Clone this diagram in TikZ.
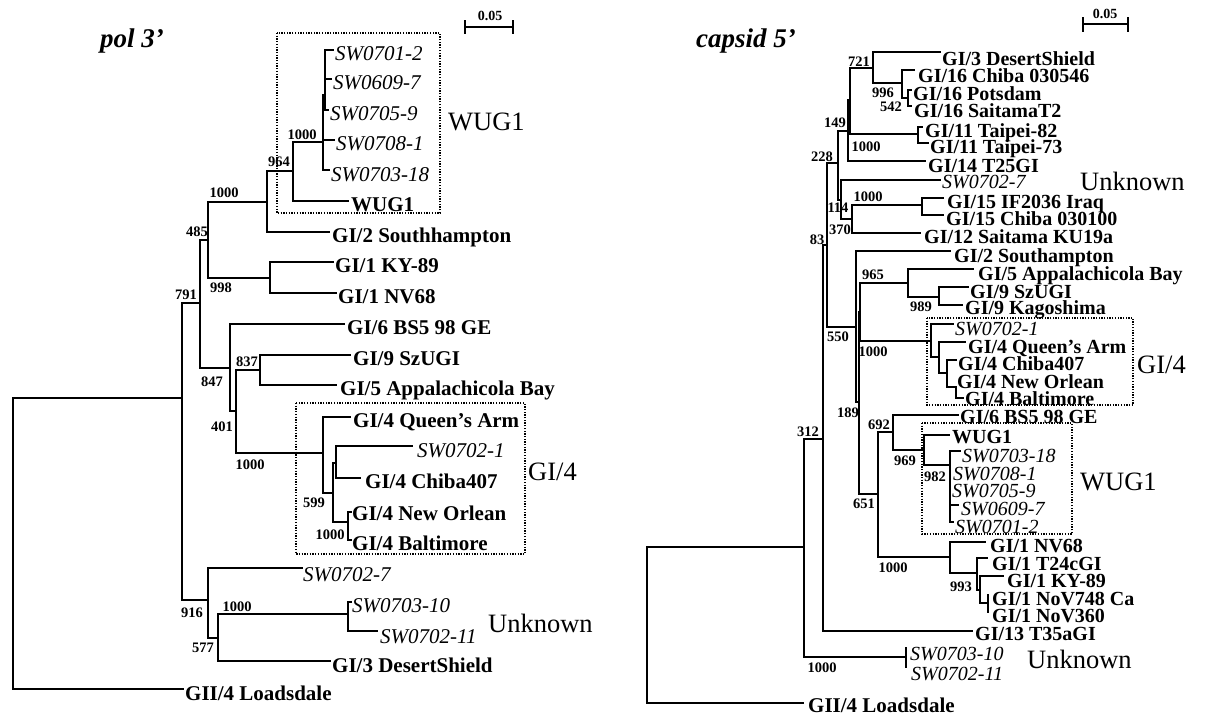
\documentclass[tikz,border=0pt]{standalone}
\usepackage{fontspec}
\setmainfont{Liberation Serif}
\newcommand{\Vt}[3]{\draw[br] (#1,#2) -- (#1,#3);}
\newcommand{\Hz}[3]{\draw[br] (#1,#3) -- (#2,#3);}
\newcommand{\Lf}[8]{\draw[br] (#2,#4) -- (#3,#4); \node[#7] (#1) at (#5,#6) {#8};}
\tikzset{
  br/.style={line width=1.6pt, line cap=rect},
  lab/.style={font=\fontsize{21}{21}\selectfont\bfseries, anchor=base west, inner sep=0pt},
  ilab/.style={font=\fontsize{21}{21}\selectfont\itshape, anchor=base west, inner sep=0pt},
  rlab/.style={font=\fontsize{20}{20}\selectfont\bfseries, anchor=base west, inner sep=0pt},
  rilab/.style={font=\fontsize{20}{20}\selectfont\itshape, anchor=base west, inner sep=0pt},
  big/.style={font=\fontsize{26.5}{26.5}\selectfont, anchor=base west, inner sep=0pt},
  ttl/.style={font=\fontsize{27}{27}\selectfont\bfseries\itshape, anchor=base west, inner sep=0pt},
  bs/.style={font=\fontsize{14.5}{14.5}\selectfont\bfseries, inner sep=0pt},
  sc/.style={font=\fontsize{14}{14}\selectfont\bfseries, inner sep=0pt},
  boxd/.style={line width=1.3pt, dash pattern=on 1.3pt off 1.4pt}
}
\begin{document}
\begin{tikzpicture}[x=1pt,y=-1pt]
\useasboundingbox (0,0) rectangle (1205,718);
% ================= LEFT TREE =================
\node[ttl] (Ltitle) at (100,47) {pol 3’};
% scale bar
\coordinate (LsA) at (465,27); \coordinate (LsB) at (513,27);
\draw[br,line width=1.3pt] (LsA) -- (LsB);
\draw[br,line width=1.3pt] (465,21) -- (465,33);
\draw[br,line width=1.3pt] (513,21) -- (513,33);
\node[sc] (Lsl) at (490,16) {0.05};
% root
\Vt{13}{398}{689}
\Hz{13}{182}{398}
\Lf{Lload}{13}{183}{689}{185}{700}{lab}{GII/4 Loadsdale}
% node 791
\Vt{182}{303}{600}
\Hz{182}{200}{303}
\Hz{182}{208}{600}
% node A
\Vt{200}{240}{368}
\Hz{200}{208}{240}
\Hz{200}{230}{368}
% node 485
\Vt{208}{202}{278}
\Hz{208}{267}{202}
\Hz{208}{270}{278}
% node 964
\Vt{267}{171}{232}
\Hz{267}{293}{171}
\Lf{Lsouth}{267}{329}{232}{332}{242}{lab}{GI/2 Southhampton}
% node 1000a
\Vt{293}{142}{201}
\Hz{293}{323}{142}
\Lf{Lwug}{293}{348}{201}{351}{211}{lab}{WUG1}
% SW cluster
\Vt{325}{50}{110}
\Vt{323}{95}{170}
\Lf{Lsw1}{325}{333}{50}{335}{60}{ilab}{SW0701-2}
\Lf{Lsw2}{325}{331}{79}{333}{89}{ilab}{SW0609-7}
\Lf{Lsw3}{324}{328}{110}{330}{120}{ilab}{SW0705-9}
\Lf{Lsw4}{323}{334}{140}{336}{150}{ilab}{SW0708-1}
\Lf{Lsw5}{323}{329}{170}{331}{181}{ilab}{SW0703-18}
% node 998
\Vt{270}{262}{293}
\Lf{Lky}{270}{333}{262}{335}{272}{lab}{GI/1 KY-89}
\Lf{Lnv}{270}{336}{293}{338}{303}{lab}{GI/1 NV68}
% node 847
\Vt{230}{324}{411}
\Lf{Lbs5}{230}{344}{324}{347}{334}{lab}{GI/6 BS5 98 GE}
\Hz{230}{236}{411}
% node 401
\Vt{236}{370}{453}
\Hz{236}{260}{370}
\Hz{236}{323}{453}
% node 837
\Vt{260}{355}{385}
\Lf{Lszu}{260}{350}{355}{353}{365}{lab}{GI/9 SzUGI}
\Lf{Lapp}{260}{336}{385}{340}{395}{lab}{GI/5 Appalachicola Bay}
% GI/4 clade
\Vt{323}{417}{493}
\Lf{Lqa}{323}{350}{417}{353}{427}{lab}{GI/4 Queen’s Arm}
\Hz{323}{333}{493}
\Vt{333}{463}{522}
\Hz{333}{336}{463}
\Vt{336}{446}{478}
\Lf{Lsw21}{336}{412}{446}{417}{457}{ilab}{SW0702-1}
\Lf{Lchi}{336}{360}{478}{365}{488}{lab}{GI/4 Chiba407}
\Hz{333}{348}{522}
\Vt{348}{512}{540}
\Lf{Lnew}{348}{351}{512}{352}{520}{lab}{GI/4 New Orlean}
\Lf{Lbal}{348}{351}{540}{352}{550}{lab}{GI/4 Baltimore}
% node 916
\Vt{208}{568}{638}
\Lf{Lsw27}{208}{302}{568}{303}{581}{ilab}{SW0702-7}
\Hz{208}{218}{638}
\Vt{218}{614}{661}
\Hz{218}{348}{614}
\Lf{Lds}{218}{330}{661}{332}{672}{lab}{GI/3 DesertShield}
\Vt{348}{602}{631}
\Lf{Lsw310}{348}{351}{602}{352}{612}{ilab}{SW0703-10}
\Lf{Lsw211}{348}{377}{631}{380}{643}{ilab}{SW0702-11}
% boxes and group labels
\draw[boxd] (277,33) rectangle (440,213);
\node[big] (LgW) at (448,130) {WUG1};
\draw[boxd] (296,403) rectangle (525,554);
\node[big] (LgG) at (528,480) {GI/4};
\node[big] (LgU) at (488,632) {Unknown};
% bootstrap values
\node[bs] (Lb1) at (302,135) {1000};
\node[bs] (Lb2) at (279,162) {964};
\node[bs] (Lb3) at (224,193) {1000};
\node[bs] (Lb4) at (197,232) {485};
\node[bs] (Lb5) at (221,288) {998};
\node[bs] (Lb6) at (186,295) {791};
\node[bs] (Lb7) at (247,362) {837};
\node[bs] (Lb8) at (212,382) {847};
\node[bs] (Lb9) at (222,427) {401};
\node[bs] (Lb10) at (250,465) {1000};
\node[bs] (Lb11) at (314,503) {599};
\node[bs] (Lb12) at (330,535) {1000};
\node[bs] (Lb13) at (192,613) {916};
\node[bs] (Lb14) at (237,607) {1000};
\node[bs] (Lb15) at (203,648) {577};
% ================= RIGHT TREE =================
\node[ttl] (Rtitle) at (696,47) {capsid 5’};
\draw[br,line width=1.3pt] (1083,24) -- (1128,24);
\draw[br,line width=1.3pt] (1083,18) -- (1083,31);
\draw[br,line width=1.3pt] (1128,18) -- (1128,31);
\node[sc] (Rsl) at (1105,14) {0.05};
% root
\Vt{647}{547}{703}
\Hz{647}{804}{547}
\Lf{Rload}{647}{803}{703}{808}{712}{lab}{GII/4 Loadsdale}
% node 312
\Vt{804}{439}{657}
\Hz{804}{823}{439}
\Hz{804}{906}{657}
\Vt{906}{648}{667}
\node[rilab] (Rsw310) at (910,660) {SW0703-10};
\node[rilab] (Rsw211) at (911,680) {SW0702-11};
% node 83
\Vt{823}{245}{631}
\Hz{823}{827}{245}
\Lf{Rt35}{823}{972}{631}{975}{640}{rlab}{GI/13 T35aGI}
% node Y
\Vt{827}{163}{327}
\Hz{827}{838}{163}
\Hz{827}{856}{327}
% node 228
\Vt{838}{131}{200}
\Hz{838}{848}{131}
\Hz{838}{841}{200}
% node 149
\Vt{848}{100}{161}
\Hz{848}{850}{100}
\Lf{Rt25}{848}{925}{161}{928}{172}{rlab}{GI/14 T25GI}
% node B
\Vt{850}{68}{134}
\Hz{850}{873}{68}
\Hz{850}{918}{134}
% node 721
\Vt{873}{52}{83}
\Lf{Rds}{873}{940}{52}{942}{65}{rlab}{GI/3 DesertShield}
\Hz{873}{902}{83}
% node 996
\Vt{902}{70}{98}
\Lf{Rc546}{902}{914}{70}{918}{82}{rlab}{GI/16 Chiba 030546}
\Hz{902}{908}{98}
\Vt{908}{90}{106}
\Lf{Rpots}{908}{911}{90}{913}{100}{rlab}{GI/16 Potsdam}
\Lf{Rsait}{908}{911}{106}{914}{117}{rlab}{GI/16 SaitamaT2}
% Taipei
\Vt{918}{127}{143}
\Lf{Rtp82}{918}{922}{127}{925}{137}{rlab}{GI/11 Taipei-82}
\Lf{Rtp73}{918}{928}{143}{930}{153}{rlab}{GI/11 Taipei-73}
% node 114
\Vt{841}{180}{219}
\Lf{Rsw27}{841}{940}{180}{942}{188}{rilab}{SW0702-7}
\Hz{841}{852}{219}
% node 370
\Vt{852}{205}{233}
\Hz{852}{922}{205}
\Lf{Rku}{852}{920}{233}{924}{243}{rlab}{GI/12 Saitama KU19a}
\Vt{922}{198}{215}
\Lf{Riraq}{922}{943}{198}{947}{208}{rlab}{GI/15 IF2036 Iraq}
\Lf{Rc100}{922}{943}{215}{946}{225}{rlab}{GI/15 Chiba 030100}
% node 550
\Vt{856}{251}{402}
\Lf{Rsouth}{856}{950}{251}{954}{262}{rlab}{GI/2 Southampton}
\Hz{856}{859}{402}
% node 189
\Vt{859}{312}{494}
\Hz{859}{860}{312}
\Hz{859}{878}{494}
% node X
\Vt{860}{283}{341}
\Hz{860}{908}{283}
\Hz{860}{931}{341}
% node 965
\Vt{908}{269}{297}
\Lf{Rapp}{908}{973}{269}{978}{280}{rlab}{GI/5 Appalachicola Bay}
\Hz{908}{939}{297}
\Vt{939}{287}{305}
\Lf{Rszu}{939}{968}{287}{970}{298}{rlab}{GI/9 SzUGI}
\Lf{Rkag}{939}{962}{305}{965}{314}{rlab}{GI/9 Kagoshima}
% GI/4
\Vt{931}{324}{357}
\Lf{Rsw21}{931}{953}{324}{955}{335}{rilab}{SW0702-1}
\Hz{931}{939}{357}
\Vt{939}{342}{373}
\Lf{Rqa}{939}{965}{342}{968}{353}{rlab}{GI/4 Queen’s Arm}
\Hz{939}{947}{373}
\Vt{947}{360}{387}
\Lf{Rchi}{947}{956}{360}{958}{370}{rlab}{GI/4 Chiba407}
\Hz{947}{956}{387}
\Vt{956}{387}{398}
\node[rlab] (Rnew) at (957,388) {GI/4 New Orlean};
\Lf{Rbal}{956}{963}{398}{965}{405}{rlab}{GI/4 Baltimore}
% node 651
\Vt{878}{432}{557}
\Hz{878}{893}{432}
\Hz{878}{950}{557}
% node 692
\Vt{893}{415}{450}
\Lf{Rbs5}{893}{958}{415}{960}{423}{rlab}{GI/6 BS5 98 GE}
\Hz{893}{924}{450}
% node 969
\Vt{924}{435}{465}
\Lf{Rwug}{924}{949}{435}{952}{443}{rlab}{WUG1}
\Hz{924}{950}{465}
% node 982
\Vt{950}{451}{522}
\Lf{Rsw5}{950}{960}{451}{962}{462}{rilab}{SW0703-18}
\node[rilab] (Rsw4) at (953,480) {SW0708-1};
\node[rilab] (Rsw3) at (952,497) {SW0705-9};
\Lf{Rsw2}{950}{958}{505}{961}{515}{rilab}{SW0609-7}
\Lf{Rsw1}{950}{953}{522}{955}{533}{rilab}{SW0701-2}
% GI/1
\Vt{950}{542}{573}
\Lf{Rnv}{950}{985}{542}{990}{552}{rlab}{GI/1 NV68}
\Hz{950}{977}{573}
\Vt{977}{558}{590}
\Lf{Rt24}{977}{987}{558}{992}{570}{rlab}{GI/1 T24cGI}
\Hz{977}{980}{590}
\Vt{980}{576}{603}
\Lf{Rky}{980}{1003}{576}{1007}{587}{rlab}{GI/1 KY-89}
\Hz{980}{988}{603}
\Vt{988}{595}{612}
\node[rlab] (Rnov748) at (992,605) {GI/1 NoV748 Ca};
\node[rlab] (Rnov360) at (992,622) {GI/1 NoV360};
% boxes and group labels
\draw[boxd] (927,318) rectangle (1133,405);
\node[big] (RgG) at (1137,373) {GI/4};
\draw[boxd] (922,423) rectangle (1072,534);
\node[big] (RgW) at (1080,490) {WUG1};
\node[big] (RgU1) at (1080,190) {Unknown};
\node[big] (RgU2) at (1027,668) {Unknown};
% bootstrap values
\node[bs] (Rb1) at (859,62) {721};
\node[bs] (Rb2) at (883,93) {996};
\node[bs] (Rb3) at (891,107) {542};
\node[bs] (Rb4) at (835,123) {149};
\node[bs] (Rb5) at (866,147) {1000};
\node[bs] (Rb6) at (822,157) {228};
\node[bs] (Rb7) at (868,197) {1000};
\node[bs] (Rb8) at (838,208) {114};
\node[bs] (Rb9) at (840,230) {370};
\node[bs] (Rb10) at (817,240) {83};
\node[bs] (Rb11) at (873,275) {965};
\node[bs] (Rb12) at (921,307) {989};
\node[bs] (Rb13) at (838,337) {550};
\node[bs] (Rb14) at (873,352) {1000};
\node[bs] (Rb15) at (848,413) {189};
\node[bs] (Rb16) at (879,425) {692};
\node[bs] (Rb17) at (905,461) {969};
\node[bs] (Rb18) at (935,477) {982};
\node[bs] (Rb19) at (808,432) {312};
\node[bs] (Rb20) at (864,504) {651};
\node[bs] (Rb21) at (893,568) {1000};
\node[bs] (Rb22) at (961,587) {993};
\node[bs] (Rb23) at (822,668) {1000};
\end{tikzpicture}
\end{document}
